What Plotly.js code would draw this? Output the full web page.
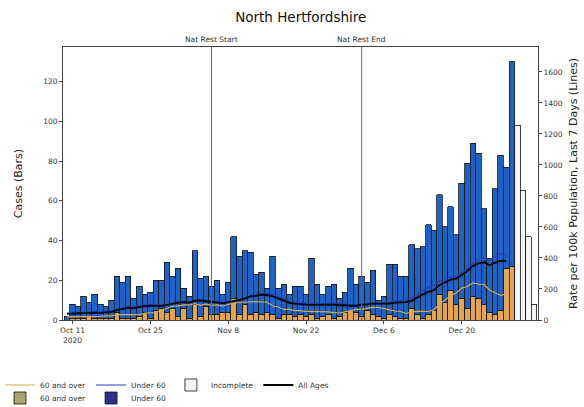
<!DOCTYPE html>
<html><head><meta charset="utf-8">
<script src="https://cdn.plot.ly/plotly-3.0.1.min.js"></script>
<style>html,body{margin:0;padding:0;background:#fff}#chart{width:584px;height:407px}</style>
</head><body><div id="chart"></div>
<script>
// Complete days (Oct 10 - Dec 29, 2020)
const days = ['2020-10-10','2020-10-11','2020-10-12','2020-10-13','2020-10-14','2020-10-15','2020-10-16','2020-10-17','2020-10-18','2020-10-19','2020-10-20','2020-10-21','2020-10-22','2020-10-23','2020-10-24','2020-10-25','2020-10-26','2020-10-27','2020-10-28','2020-10-29','2020-10-30','2020-10-31',
'2020-11-01','2020-11-02','2020-11-03','2020-11-04','2020-11-05','2020-11-06','2020-11-07','2020-11-08','2020-11-09','2020-11-10','2020-11-11','2020-11-12','2020-11-13','2020-11-14','2020-11-15','2020-11-16','2020-11-17','2020-11-18','2020-11-19','2020-11-20','2020-11-21','2020-11-22','2020-11-23','2020-11-24','2020-11-25','2020-11-26','2020-11-27','2020-11-28','2020-11-29','2020-11-30',
'2020-12-01','2020-12-02','2020-12-03','2020-12-04','2020-12-05','2020-12-06','2020-12-07','2020-12-08','2020-12-09','2020-12-10','2020-12-11','2020-12-12','2020-12-13','2020-12-14','2020-12-15','2020-12-16','2020-12-17','2020-12-18','2020-12-19','2020-12-20','2020-12-21','2020-12-22','2020-12-23','2020-12-24','2020-12-25','2020-12-26','2020-12-27','2020-12-28','2020-12-29'];

const over60Cases = [0,1,1,1,2,1,1,1,1,4,1,1,1,2,4,1,5,6,4,6,2,6,
 1,8,2,7,3,3,4,4,11,3,8,3,4,3,4,3,1,3,3,2,3,2,3,1,2,3,1,2,4,5,
 4,2,5,3,2,1,3,2,1,1,6,3,1,3,5,13,9,15,8,11,6,12,11,8,4,3,5,26,27];

const under60Cases = [2,7,6,11,7,12,7,6,9,18,18,21,10,15,9,13,15,14,25,16,24,10,
 11,27,19,15,14,17,9,15,31,29,27,31,19,21,12,29,15,15,10,15,14,11,28,17,11,14,17,9,10,21,
 14,20,14,22,8,11,25,26,21,21,32,33,36,45,40,50,38,42,35,58,73,77,73,48,27,63,78,51,103];

// Incomplete days
const incompleteDays = ['2020-12-30','2020-12-31','2021-01-01','2021-01-02'];
const incompleteCases = [98,65,42,8];

// Rates per 100k, last 7 days (Oct 10 - Dec 28)
const lineDays = days.slice(0, 80);
const allAgesRate = [40,42,43,45,45,47,46,50,52,63,69,79,77,84,89,92,90,91,97,106,112,115,
 113,125,126,121,116,112,109,115,121,129,139,153,155,163,161,153,140,128,111,106,101,99,98,99,96,99,99,95,96,92,
 92,99,100,106,105,103,105,112,112,115,125,146,165,181,193,226,245,260,266,291,315,349,366,373,353,370,382,380];
const over60Rate = [20,20,21,22,22,23,23,26,26,35,35,32,32,35,45,45,48,65,74,90,90,97,
 97,106,94,103,94,97,90,100,110,113,116,116,119,116,116,90,84,68,68,61,61,55,55,55,52,52,48,45,52,58,
 68,68,74,81,81,71,65,58,55,42,52,55,55,55,65,103,129,158,174,206,216,239,232,229,194,177,158,170];
const under60Rate = [45,47,48,50,50,52,51,55,57,69,75,89,87,95,98,102,99,95,99,105,114,115,
 113,125,129,120,118,111,110,114,118,127,139,156,158,170,167,165,151,139,119,115,108,107,106,108,104,108,110,105,104,97,
 94,103,103,108,107,108,112,124,125,131,141,166,190,210,224,252,269,278,280,302,329,366,388,398,383,411,430,409];

// Ticks & events
const xTickVals = ['2020-10-11','2020-10-25','2020-11-08','2020-11-22','2020-12-06','2020-12-20'];
const xTickText = ['Oct 11<br>2020','Oct 25','Nov 8','Nov 22','Dec 6','Dec 20'];
const eventDates = ['2020-11-05','2020-12-02'];
const eventLabels = ['Nat Rest Start','Nat Rest End'];

const DAY = 86400000;
const edge = {color:'#111', width:0.8};
const FONT = 'DejaVu Sans, sans-serif';

const traces = [
  {type:'bar', name:'60 and over', x:days, y:over60Cases, width:DAY, marker:{color:'#e3a64f', line:edge}, showlegend:false},
  {type:'bar', name:'Under 60', x:days, y:under60Cases, width:DAY, marker:{color:'#1b63c6', line:edge}, showlegend:false},
  {type:'bar', name:'Incomplete', x:incompleteDays, y:incompleteCases, width:DAY, marker:{color:'#f4f4f4', line:edge}, legend:'legend', legendrank:3},
  {type:'scatter', mode:'lines', name:'60 and over', x:lineDays, y:over60Rate, yaxis:'y2', line:{color:'#d1aa55', width:1.2}, legend:'legend', legendrank:1},
  {type:'scatter', mode:'lines', name:'Under 60', x:lineDays, y:under60Rate, yaxis:'y2', line:{color:'#2a3fc0', width:1.2}, legend:'legend', legendrank:2},
  {type:'scatter', mode:'lines', name:'All Ages', x:lineDays, y:allAgesRate, yaxis:'y2', line:{color:'#000', width:1.8}, legend:'legend', legendrank:4},
  {type:'bar', name:'60 and over', x:[null], y:[null], marker:{color:'#a9a46a', line:edge}, legend:'legend2', legendrank:1},
  {type:'bar', name:'Under 60', x:[null], y:[null], marker:{color:'#2e2e8e', line:edge}, legend:'legend2', legendrank:2}
];

const shapes = eventDates.map(d => ({type:'line', xref:'x', yref:'paper', x0:d, x1:d, y0:0, y1:1, line:{color:'#666', width:1}}));
const annotations = eventDates.map((d,i) => ({xref:'x', yref:'paper', x:d, y:1, yanchor:'bottom', text:eventLabels[i], showarrow:false, font:{size:7.5, color:'#333', family:FONT}, yshift:1}));

const axisCommon = {automargin:false, showline:true, linecolor:'#444', linewidth:1, ticks:'outside', ticklen:3, tickcolor:'#444', tickfont:{size:7.5, color:'#333', family:FONT}, showgrid:false, zeroline:false};

const legendCommon = {orientation:'h', xref:'container', yref:'container', xanchor:'left', yanchor:'middle', font:{size:7.5, family:FONT, color:'#333'}, bgcolor:'rgba(0,0,0,0)', traceorder:'normal', itemwidth:30, tracegroupgap:0};

const layout = {
  width:584, height:407,
  margin:{l:63, r:46, t:47, b:87, autoexpand:false},
  paper_bgcolor:'#fff', plot_bgcolor:'#fff',
  font:{family:FONT, color:'#222'},
  title:{text:'North Hertfordshire', x:0.515, xanchor:'center', y:0.958, yanchor:'middle', font:{size:13.5, family:FONT, color:'#111'}},
  barmode:'stack', bargap:0,
  xaxis:Object.assign({}, axisCommon, {type:'date', range:['2020-10-09 07:00','2021-01-02 17:00'], tickvals:xTickVals, ticktext:xTickText, mirror:true}),
  yaxis:Object.assign({}, axisCommon, {range:[0,137.5], tickvals:[0,20,40,60,80,100,120], mirror:false,
    title:{text:'Cases (Bars)', font:{size:11, family:FONT, color:'#222'}, standoff:18}}),
  yaxis2:Object.assign({}, axisCommon, {overlaying:'y', side:'right', range:[0,1761], tickvals:[0,200,400,600,800,1000,1200,1400,1600],
    title:{text:'Rate per 100k Population, Last 7 Days (Lines)', font:{size:11, family:FONT, color:'#222'}, standoff:7}}),
  shapes:shapes, annotations:annotations,
  legend:Object.assign({}, legendCommon, {x:0, y:1 - 385/407}),
  legend2:Object.assign({}, legendCommon, {x:0, y:1 - 398/407}),
  showlegend:true
};

Plotly.newPlot('chart', traces, layout, {displayModeBar:false, staticPlot:true});
</script></body></html>
